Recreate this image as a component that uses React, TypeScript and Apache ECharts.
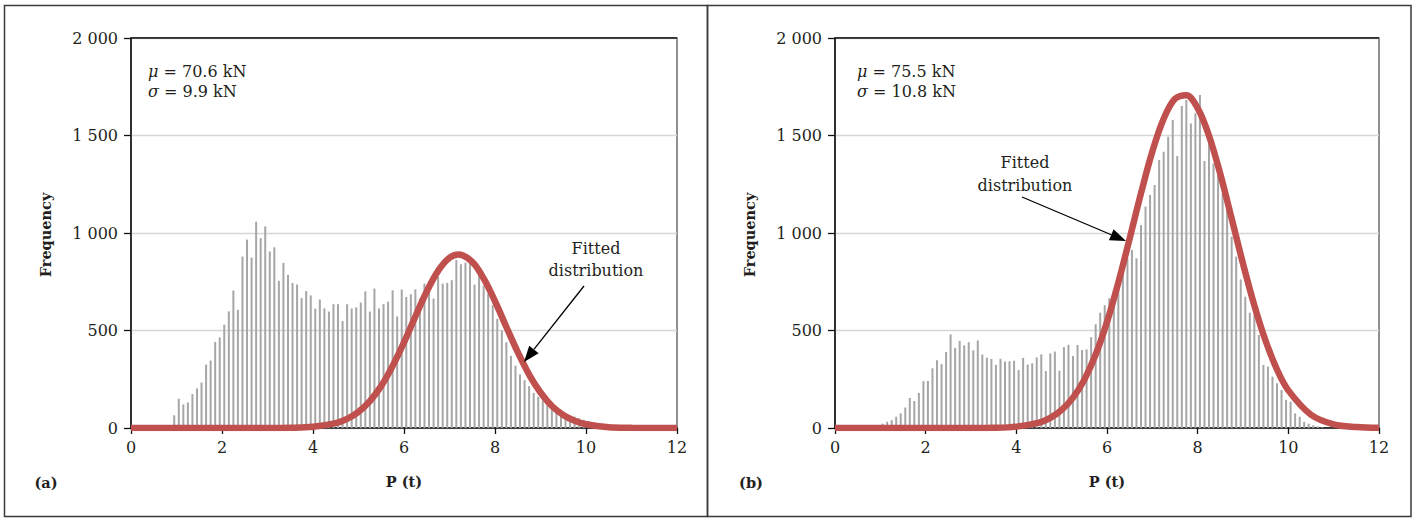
import React, { useEffect, useRef } from "react";
import * as echarts from "echarts";

// ---------- data ----------
const BIN_WIDTH = 0.1;
const leftFirstBin = 0.95;
const leftCounts = [
  65, 150, 121, 131, 174, 203, 233, 325, 346, 441,
  465, 530, 598, 705, 606, 879, 966, 874, 1058, 974,
  1034, 905, 927, 755, 847, 785, 744, 736, 666, 702,
  680, 612, 659, 613, 597, 635, 635, 548, 635, 613,
  619, 643, 701, 597, 715, 613, 635, 648, 706, 572,
  710, 672, 686, 711, 664, 740, 752, 664, 775, 740,
  744, 758, 862, 840, 848, 845, 735, 790, 730, 690,
  630, 560, 500, 440, 370, 320, 275, 245, 215, 180,
  160, 140, 125, 108, 92, 80, 70, 65, 58, 50,
  42, 36, 30, 22, 15, 10, 6, 4,
];
const rightFirstBin = 1.05;
const rightCounts = [
  22, 32, 40, 58, 75, 105, 154, 138, 180, 240,
  241, 306, 348, 328, 390, 480, 411, 447, 424, 440,
  398, 449, 377, 360, 354, 324, 355, 341, 342, 345,
  297, 359, 325, 332, 362, 378, 292, 383, 392, 294,
  415, 427, 369, 426, 400, 403, 466, 532, 591, 630,
  665, 705, 725, 793, 870, 913, 870, 1041, 1135, 1195,
  1246, 1374, 1417, 1494, 1579, 1395, 1651, 1682, 1562, 1614,
  1708, 1369, 1460, 1357, 1315, 1203, 1135, 981, 879, 762,
  673, 591, 588, 477, 323, 315, 263, 229, 195, 144,
  135, 75, 58, 32, 22, 14, 8, 4,
];
const leftFitX = [0, 1, 2, 3, 3.5, 4, 4.5, 4.75, 5, 5.25, 5.5, 5.75, 6, 6.25, 6.5, 6.75, 7, 7.2, 7.5, 7.75, 8, 8.25, 8.5, 8.75, 9, 9.25, 9.5, 9.75, 10, 10.5, 11, 12];
const leftFitY = [0, 0, 0, 0, 1, 6, 25, 47, 83, 138, 216, 318, 439, 572, 700, 806, 873, 890, 852, 767, 650, 518, 389, 274, 182, 113, 67, 37, 19, 4, 1, 0];
const rightFitX = [0, 1, 2, 3, 3.5, 4, 4.5, 4.75, 5, 5.25, 5.5, 5.75, 6, 6.25, 6.5, 6.75, 7, 7.25, 7.5, 7.75, 8, 8.25, 8.5, 8.75, 9, 9.25, 9.5, 9.75, 10, 10.5, 11, 11.5, 12];
const rightFitY = [0, 0, 0, 0, 1, 7, 28, 52, 93, 156, 248, 377, 544, 746, 972, 1204, 1418, 1586, 1688, 1707, 1640, 1499, 1302, 1074, 843, 629, 446, 300, 193, 68, 19, 5, 1];
const leftStats = { mu: "70.6", sigma: "9.9" };
const rightStats = { mu: "75.5", sigma: "10.8" };
const panelLabels = ["(a)", "(b)"];
const xAxisTitle = "P (t)";
const yAxisTitle = "Frequency";
const annotationLines = ["Fitted", "distribution"];

const FONT = "DejaVu Serif";
const TXT = "#231f20";
const RED = "#c0504d";
const BAR = "#a6a6a6";

function yFmt(v: number) {
  if (v >= 1000) {
    const th = Math.floor(v / 1000);
    const rest = String(v % 1000).padStart(3, "0");
    return th + " " + rest;
  }
  return String(v);
}

function arrow(x1: number, y1: number, x2: number, y2: number) {
  const dx = x2 - x1, dy = y2 - y1;
  const len = Math.sqrt(dx * dx + dy * dy);
  const ux = dx / len, uy = dy / len;
  const hl = 16, hw = 6;
  const bx = x2 - ux * hl, by = y2 - uy * hl;
  return [
    { type: "line", shape: { x1, y1, x2: bx, y2: by }, style: { stroke: "#000", lineWidth: 1.3 }, z: 10 },
    {
      type: "polygon",
      shape: { points: [[x2, y2], [bx - uy * hw, by + ux * hw], [bx + uy * hw, by - ux * hw]] },
      style: { fill: "#000" },
      z: 10,
    },
  ];
}

function text(t: string, x: number, y: number, extra: any = {}, rotation = 0) {
  return {
    type: "text",
    x,
    y,
    rotation,
    z: 10,
    style: {
      text: t,
      fontFamily: FONT,
      fontSize: 16,
      fill: TXT,
      align: "center",
      verticalAlign: "middle",
      ...extra,
    },
  };
}

function statText(label: string, value: string, x: number, y: number) {
  return {
    type: "text",
    x,
    y,
    z: 10,
    style: {
      text: "{i|" + label + "} = " + value + " kN",
      fontFamily: FONT,
      fontSize: 16,
      fill: TXT,
      align: "left",
      verticalAlign: "middle",
      rich: { i: { fontStyle: "italic", fontFamily: FONT, fontSize: 16, fill: TXT } },
    },
  };
}

const BOLD = { fontWeight: "bold", fontSize: 14.5 };

export default function App() {
  const ref = useRef<HTMLDivElement>(null);
  useEffect(() => {
    if (!ref.current) return;
    const chart = echarts.init(ref.current, null, { renderer: "svg" });
    const grids = [
      { left: 131, top: 38, width: 546, height: 390 },
      { left: 835, top: 38, width: 544, height: 390 },
    ];
    const xAxis = grids.map((_, i) => ({
      type: "value",
      gridIndex: i,
      min: 0,
      max: 12,
      interval: 2,
      axisLine: { show: true, onZero: false, lineStyle: { color: "#111", width: 1.5 } },
      axisTick: { show: true, length: 6, lineStyle: { color: "#111", width: 1.3 } },
      axisLabel: { fontFamily: FONT, fontSize: 16, color: TXT, margin: 11 },
      splitLine: { show: false },
    }));
    const yAxis = grids.map((_, i) => ({
      type: "value",
      gridIndex: i,
      min: 0,
      max: 2000,
      interval: 500,
      axisLine: { show: true, onZero: false, lineStyle: { color: "#111", width: 1.5 } },
      axisTick: { show: true, length: 7, lineStyle: { color: "#111", width: 1.3 } },
      axisLabel: { fontFamily: FONT, fontSize: 16, color: TXT, margin: 13, formatter: yFmt },
      splitLine: { show: true, lineStyle: { color: "#d6d6d6", width: 1.3 } },
    }));
    const mkBars = (first: number, counts: number[], idx: number) => ({
      type: "bar",
      xAxisIndex: idx,
      yAxisIndex: idx,
      data: counts.map((v, i) => [+(first + i * BIN_WIDTH).toFixed(2), v]),
      barWidth: 2,
      itemStyle: { color: BAR },
      silent: true,
      z: 2,
    });
    const mkFit = (xs: number[], ys: number[], idx: number) => ({
      type: "line",
      xAxisIndex: idx,
      yAxisIndex: idx,
      data: xs.map((x, i) => [x, ys[i]]),
      smooth: 0.35,
      symbol: "none",
      showSymbol: false,
      lineStyle: { color: RED, width: 6.5 },
      silent: true,
      z: 3,
    });
    const graphic: any[] = [
      { type: "rect", shape: { x: 4.5, y: 5.5, width: 703, height: 511 }, style: { fill: "none", stroke: "#3a3a3a", lineWidth: 1.5 }, z: 10 },
      { type: "rect", shape: { x: 707.5, y: 5.5, width: 703.5, height: 511 }, style: { fill: "none", stroke: "#3a3a3a", lineWidth: 1.5 }, z: 10 },
      { type: "line", shape: { x1: 131, y1: 38, x2: 677, y2: 38 }, style: { stroke: "#111", lineWidth: 1.5 }, z: 10 },
      { type: "line", shape: { x1: 835, y1: 38, x2: 1379, y2: 38 }, style: { stroke: "#111", lineWidth: 1.5 }, z: 10 },
      text(yAxisTitle, 45, 235, BOLD, Math.PI / 2),
      text(yAxisTitle, 749, 235, BOLD, Math.PI / 2),
      text(xAxisTitle, 404, 481, BOLD),
      text(xAxisTitle, 1107, 481, BOLD),
      text(panelLabels[0], 46, 482, BOLD),
      text(panelLabels[1], 751, 482, BOLD),
      statText("μ", leftStats.mu, 148, 71),
      statText("σ", leftStats.sigma, 148, 91),
      statText("μ", rightStats.mu, 857, 71),
      statText("σ", rightStats.sigma, 857, 91),
      text(annotationLines[0], 596, 248),
      text(annotationLines[1], 596, 270),
      text(annotationLines[0], 1025, 162),
      text(annotationLines[1], 1025, 185),
      ...arrow(584, 286, 524, 362),
      ...arrow(1022, 197, 1126, 241),
    ];

    chart.setOption({
      animation: false,
      grid: grids.map((g) => ({ ...g, show: true, borderColor: "#555", borderWidth: 1.3, backgroundColor: "transparent" })),
      xAxis,
      yAxis,
      series: [
        mkBars(leftFirstBin, leftCounts, 0),
        mkBars(rightFirstBin, rightCounts, 1),
        mkFit(leftFitX, leftFitY, 0),
        mkFit(rightFitX, rightFitY, 1),
      ],
      graphic,
    });
    return () => chart.dispose();
  }, []);
  return (
    <div
      ref={ref}
      style={{ position: "absolute", left: 0, top: 0, width: 1415, height: 519, background: "#fff" }}
    />
  );
}
